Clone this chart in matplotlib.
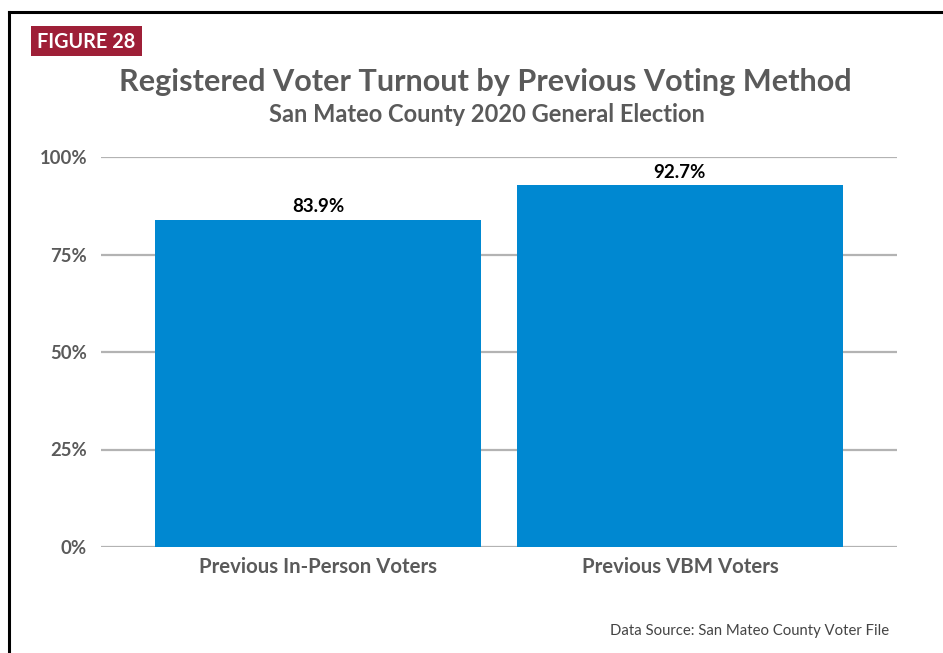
import matplotlib.pyplot as plt
from matplotlib.patches import Rectangle
from matplotlib.lines import Line2D

categories = ['Previous In-Person Voters', 'Previous VBM Voters']
turnout = [83.9, 92.7]
yticks = [0, 25, 50, 75, 100]

plt.rcParams['font.family'] = ['Lato', 'DejaVu Sans']

W, H = 943, 653
fig = plt.figure(figsize=(W / 100, H / 100), dpi=100)

# frame: top and left edges only
fig.add_artist(Line2D([9 / W, 1], [1 - 12 / H, 1 - 12 / H], color='black', lw=2.2))
fig.add_artist(Line2D([9 / W, 9 / W], [0, 1 - 12 / H], color='black', lw=2.2))

# figure label
fig.add_artist(Rectangle((31 / W, 1 - 56 / H), 111 / W, 30 / H,
                         facecolor='#9e1f37', edgecolor='none'))
fig.text(86.5 / W, 1 - 42 / H, 'FIGURE 28', color='white', fontsize=14.3,
         fontweight='bold', ha='center', va='center')

fig.text(485 / W, 1 - 82 / H, 'Registered Voter Turnout by Previous Voting Method',
         color='#5a5a5a', fontsize=22.1, fontweight='bold', ha='center', va='center')
fig.text(487 / W, 1 - 115 / H, 'San Mateo County 2020 General Election',
         color='#5a5a5a', fontsize=17, fontweight='bold', ha='center', va='center')

ax = fig.add_axes([101 / W, 1 - 547 / H, 796 / W, 390 / H])
x = range(len(categories))
bars = ax.bar(x, turnout, width=0.9, color='#0088d1', zorder=2)
for b, v in zip(bars, turnout):
    ax.text(b.get_x() + b.get_width() / 2, v + 1.2, f'{v}%', ha='center', va='bottom',
            fontsize=13.5, fontweight='bold', color='black')

ax.set_xlim(-0.6, 1.6)
ax.set_ylim(0, 100)
ax.set_yticks(yticks)
ax.set_yticklabels([f'{t}%' for t in yticks])
ax.yaxis.grid(True, color='#b3b3b3', lw=1.6, zorder=0)
ax.set_xticks(list(x))
ax.set_xticklabels(categories)
for s in ax.spines.values():
    s.set_visible(False)
ax.tick_params(length=0)
ax.tick_params(axis='y', pad=10, labelsize=13.3, labelcolor='#5a5a5a')
ax.tick_params(axis='x', pad=7, labelsize=14.7, labelcolor='#5a5a5a')
for lbl in ax.get_xticklabels() + ax.get_yticklabels():
    lbl.set_fontweight('bold')

fig.text(889 / W, 1 - 631 / H, 'Data Source: San Mateo County Voter File',
         color='#444444', fontsize=10.7, ha='right', va='center')

fig.savefig('out.png', dpi=100)
